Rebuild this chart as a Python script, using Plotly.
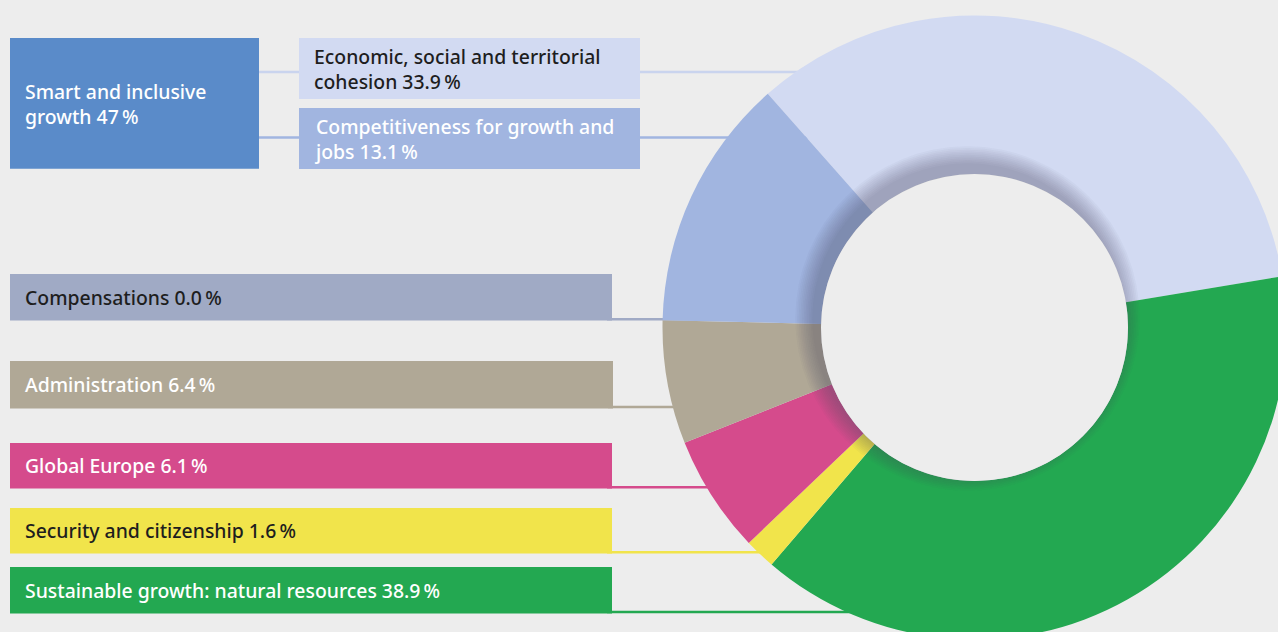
import math
import plotly.graph_objects as go

# ---------------- data ----------------
slice_labels = [
    "Economic, social and territorial cohesion",
    "Sustainable growth: natural resources",
    "Security and citizenship",
    "Global Europe",
    "Administration",
    "Compensations",
    "Competitiveness for growth and jobs",
]
slice_values = [33.9, 38.9, 1.6, 6.1, 6.4, 0.0, 13.1]
slice_colors = ["#D2DAF2", "#23A851", "#F1E44B", "#D54B8C", "#B0A896", "#A0AAC5", "#A1B5E0"]

parent_label = "Smart and inclusive growth"
parent_value = 47
parent_color = "#5A8BC9"

box_text = {
    "Smart": "Smart and inclusive<br>growth 47\u2009%",
    "Economic, social and territorial cohesion": "Economic, social and territorial<br>cohesion 33.9\u2009%",
    "Competitiveness for growth and jobs": "Competitiveness for growth and<br>jobs 13.1\u2009%",
    "Compensations": "Compensations 0.0\u2009%",
    "Administration": "Administration 6.4\u2009%",
    "Global Europe": "Global Europe 6.1\u2009%",
    "Security and citizenship": "Security and citizenship 1.6\u2009%",
    "Sustainable growth: natural resources": "Sustainable growth: natural resources 38.9\u2009%",
}
dark_text = {"Economic, social and territorial cohesion", "Compensations", "Security and citizenship"}

# ---------------- layout geometry (pixels) ----------------
BG = "#EDEDED"
CX, CY = 974.5, 327.5
R_OUT = 312
R_IN = 153.5
# canvas slightly larger than the window so the donut is cropped like the original
W = int(math.ceil(CX + R_OUT))
H = int(math.ceil(CY + R_OUT))

# box geometry: x0, x1, y0, y1, line y
boxes = {
    "Economic, social and territorial cohesion": (299, 640, 38, 99, 72),
    "Competitiveness for growth and jobs": (299, 640, 108, 169, 137.5),
    "Compensations": (10, 612, 274, 320.5, 319.3),
    "Administration": (10, 613, 361, 408.5, 407),
    "Global Europe": (10, 612, 443, 488.5, 487.2),
    "Security and citizenship": (10, 612, 508, 553.5, 552.2),
    "Sustainable growth: natural resources": (10, 612, 567, 613.5, 612),
}
smart_box = (10, 259, 38, 168.7)

def line_end(y):
    dy = y - CY
    rm = (R_OUT + R_IN) / 2
    if abs(dy) < rm:
        return CX - math.sqrt(rm * rm - dy * dy)
    return CX

fig = go.Figure()

fig.add_trace(go.Pie(
    labels=slice_labels,
    values=slice_values,
    marker=dict(colors=slice_colors, line=dict(width=0)),
    hole=R_IN / R_OUT,
    sort=False,
    direction="clockwise",
    rotation=-41.5,
    textinfo="none",
    hoverinfo="label+percent",
    showlegend=False,
    domain=dict(x=[(CX - R_OUT) / W, (CX + R_OUT) / W],
                y=[(H - CY - R_OUT) / H, (H - CY + R_OUT) / H]),
))

# invisible axes in pixel units for boxes / annotations
fig.add_trace(go.Scatter(x=[0, W], y=[0, H], mode="markers",
                         marker=dict(opacity=0), hoverinfo="skip", showlegend=False))

shapes = []
color_of = dict(zip(slice_labels, slice_colors))

# connector lines (under the donut)
for lab, (x0, x1, y0, y1, ly) in boxes.items():
    start = 250 if lab in ("Economic, social and territorial cohesion",
                           "Competitiveness for growth and jobs") else x1 - 5
    lc = "#CAD4EE" if lab.startswith("Economic") else color_of[lab]
    shapes.append(dict(type="line", xref="x", yref="y", x0=start, x1=line_end(ly),
                       y0=ly, y1=ly, line=dict(color=lc, width=2.5), layer="below"))

# boxes
shapes.append(dict(type="rect", xref="x", yref="y", x0=smart_box[0], x1=smart_box[1],
                   y0=smart_box[2], y1=smart_box[3], fillcolor=parent_color,
                   line=dict(width=0), layer="below"))
for lab, (x0, x1, y0, y1, ly) in boxes.items():
    shapes.append(dict(type="rect", xref="x", yref="y", x0=x0, x1=x1, y0=y0, y1=y1,
                       fillcolor=color_of[lab], line=dict(width=0), layer="below"))

# soft inner shadow around the hole (light from lower right)
for k in range(11, 0, -1):
    r = R_IN + 1.7 * k
    shapes.append(dict(type="circle", xref="x", yref="y",
                       x0=CX - 7 - r, x1=CX - 7 + r, y0=CY - 9 - r, y1=CY - 9 + r,
                       fillcolor="rgba(70,80,110,0.04)", line=dict(width=0), layer="above"))
shapes.append(dict(type="circle", xref="x", yref="y",
                   x0=CX - R_IN, x1=CX + R_IN, y0=CY - R_IN, y1=CY + R_IN,
                   fillcolor=BG, line=dict(width=0), layer="above"))

annotations = []
FONT = "Noto Sans"
FS = 19.4
annotations.append(dict(x=smart_box[0] + 13, y=(smart_box[2] + smart_box[3]) / 2 + 1,
                        xref="x", yref="y", text=box_text["Smart"], showarrow=False,
                        xanchor="left", yanchor="middle", align="left",
                        font=dict(family=FONT, size=FS, color="white", weight=500)))
for lab, (x0, x1, y0, y1, ly) in boxes.items():
    annotations.append(dict(x=x0 + 13, y=(y0 + y1) / 2, xref="x", yref="y",
                            text=box_text[lab], showarrow=False,
                            xanchor="left", yanchor="middle", align="left",
                            font=dict(family=FONT, size=FS, weight=500,
                                      color="#1E1E1E" if lab in dark_text else "white")))

fig.update_layout(
    width=W, height=H,
    margin=dict(l=0, r=0, t=0, b=0),
    paper_bgcolor=BG, plot_bgcolor=BG,
    xaxis=dict(range=[0, W], visible=False, fixedrange=True),
    yaxis=dict(range=[H, 0], visible=False, fixedrange=True),
    shapes=shapes,
    annotations=annotations,
    showlegend=False,
)

fig.write_html("out.html", config={"displayModeBar": False},
               post_script="document.body.style.margin='0';"
                           "document.documentElement.style.overflow='hidden';"
                           "document.body.style.overflow='hidden';")
